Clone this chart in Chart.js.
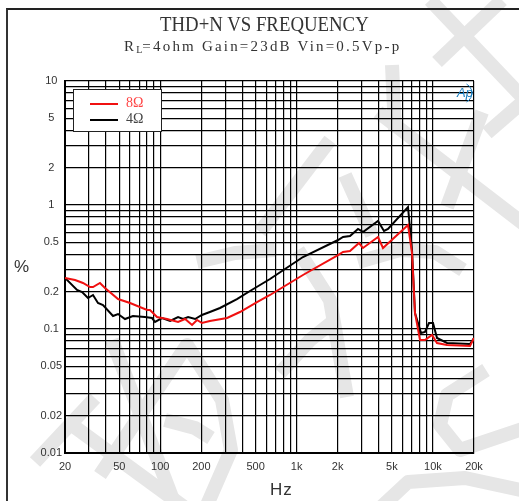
<!DOCTYPE html>
<html>
<head>
<meta charset="utf-8">
<title>THD+N VS FREQUENCY</title>
<script src="https://cdn.jsdelivr.net/npm/chart.js@4/dist/chart.umd.js"></script>
<style>
  html, body { margin: 0; padding: 0; background: #fff; overflow: hidden; }
  #wrap { position: relative; width: 519px; height: 501px; }
  canvas { position: absolute; left: 0; top: 0; }
  #frame { position: absolute; left: 6px; top: 8px; right: 0; bottom: 0; border-left: 2px solid #333; border-top: 2px solid #222; }
  .txt { position: absolute; white-space: nowrap; color: #333; }
  #title { left: 160px; top: 13px; font: 20px "Liberation Serif", serif; transform: scaleX(0.94); transform-origin: left top; }
  #sub { left: 124px; top: 38px; font: 15px "Liberation Serif", serif; letter-spacing: 2.2px; }
  #sub sub { font-size: 10px; letter-spacing: 0; vertical-align: -2px; line-height: 0; }
  #ylab { left: 14px; top: 257px; font: 17px "Liberation Sans", sans-serif; }
  #xlab { left: 270px; top: 480px; font: 17px "Liberation Sans", sans-serif; letter-spacing: 1px; }
  #legend { position: absolute; left: 73px; top: 89px; width: 87px; height: 41px; background: #fff; border: 1.5px solid #222; }
  #legend i { position: absolute; left: 16px; width: 28px; height: 1.6px; }
  #legend span { position: absolute; left: 52px; font: 14px "Liberation Serif", serif; }
</style>
</head>
<body>
<div id="wrap">
  <canvas id="thd" width="519" height="501"></canvas>
  <div id="frame"></div>
  <div class="txt" id="title">THD+N VS FREQUENCY</div>
  <div class="txt" id="sub">R<sub>L</sub>=4ohm Gain=23dB Vin=0.5Vp-p</div>
  <div class="txt" id="ylab">%</div>
  <div class="txt" id="xlab">Hz</div>
  <div id="legend"></div>
</div>
<script>
// values
var freq8 = [20, 23.7, 27.1, 30.5, 32.1, 36.1, 39.3, 49, 60, 80, 84, 94.6, 112, 135, 152, 171, 186, 202, 231, 309, 384, 512, 638, 1113, 2012, 2189, 2463, 2867, 3067, 3953, 4300, 6560, 7019, 7383, 8035, 8741, 9840, 10707, 12677, 18690, 20000];
var thd8 = [0.258, 0.248, 0.235, 0.218, 0.218, 0.235, 0.214, 0.1745, 0.162, 0.1423, 0.1423, 0.125, 0.1204, 0.1139, 0.1204, 0.1077, 0.1182, 0.1118, 0.116, 0.1226, 0.1371, 0.165, 0.188, 0.2726, 0.395, 0.4178, 0.4256, 0.4937, 0.45, 0.552, 0.45, 0.69, 0.41, 0.1346, 0.0815, 0.0815, 0.0895, 0.0771, 0.0743, 0.0729, 0.0846];
var freq4 = [20, 24.5, 26.7, 29.5, 32.1, 34.9, 38, 45, 49, 55.1, 63, 77.2, 87, 91.5, 103, 118, 135, 147, 160, 180, 202, 231, 274, 365, 455, 638, 1113, 2012, 2189, 2463, 2819, 3067, 3953, 4373, 4680, 6560, 7019, 7383, 8173, 8741, 9354, 10007, 10707, 12677, 18690, 20000];
var thd4 = [0.258, 0.2063, 0.1988, 0.1778, 0.188, 0.162, 0.1561, 0.1273, 0.1321, 0.1204, 0.1273, 0.125, 0.1226, 0.1139, 0.1226, 0.116, 0.125, 0.1204, 0.125, 0.1204, 0.1297, 0.1371, 0.1477, 0.1745, 0.2025, 0.2531, 0.3807, 0.522, 0.552, 0.5623, 0.6405, 0.606, 0.7428, 0.617, 0.6405, 0.9636, 0.4337, 0.1346, 0.0928, 0.0946, 0.1118, 0.1118, 0.0846, 0.0771, 0.0757, 0.0846];

var xGrid = [20, 30, 40, 50, 60, 70, 80, 90, 100, 200, 300, 400, 500, 600, 700, 800, 900, 1000, 2000, 3000, 4000, 5000, 6000, 7000, 8000, 9000, 10000, 20000];
var yGrid = [0.01, 0.02, 0.03, 0.04, 0.05, 0.06, 0.07, 0.08, 0.09, 0.1, 0.2, 0.3, 0.4, 0.5, 0.6, 0.7, 0.8, 0.9, 1, 2, 3, 4, 5, 6, 7, 8, 9, 10];
var xLabelled = [20, 50, 100, 200, 500, 1000, 2000, 5000, 10000, 20000];
var xLabelText = ['20', '50', '100', '200', '500', '1k', '2k', '5k', '10k', '20k'];
var yLabelled = [0.01, 0.02, 0.05, 0.1, 0.2, 0.5, 1, 2, 5, 10];

function points(xs, ys) {
    return xs.map(function(x, i) { return {x: x, y: ys[i]}; });
}

// grey watermark behind the plot
var marks = [
    [[35, 462], [95, 398]],
    [[72, 425], [195, 515]],
    [[112, 340], [175, 505]],
    [[100, 475], [187, 345], [222, 400], [231, 450], [207, 505]],
    [[165, 420], [195, 428], [211, 438]],
    [[197, 262], [235, 253], [275, 250]],
    [[260, 232], [330, 140]],
    [[345, 175], [372, 235]],
    [[298, 250], [330, 300], [347, 397]],
    [[280, 373], [310, 340], [335, 320]],
    [[358, 262], [400, 250], [435, 252], [463, 270]],
    [[486, 370], [447, 395], [440, 425], [460, 450], [525, 428]],
    [[378, 510], [408, 482], [465, 478], [530, 492]],
    [[430, 0], [525, 100]],
    [[502, 0], [437, 62]],
    [[378, 112], [525, 225]],
    [[392, 65], [395, 130]],
    [[482, 112], [447, 207]],
    [[487, 133], [525, 100]]
];

var watermark = {
    id: 'watermark',
    beforeDraw: function(chart) {
        var ctx = chart.ctx;
        ctx.save();
        ctx.strokeStyle = '#e6e6e6';
        ctx.lineWidth = 14;
        ctx.lineJoin = 'round';
        marks.forEach(function(m) {
            ctx.beginPath();
            ctx.moveTo(m[0][0], m[0][1]);
            for (var i = 1; i < m.length; i++) ctx.lineTo(m[i][0], m[i][1]);
            ctx.stroke();
        });
        ctx.restore();
    }
};

var apLogo = {
    id: 'apLogo',
    afterDatasetsDraw: function(chart) {
        var ctx = chart.ctx;
        ctx.save();
        ctx.fillStyle = '#1b7fc0';
        ctx.strokeStyle = '#1b7fc0';
        ctx.font = 'italic 13px "Liberation Sans"';
        ctx.textAlign = 'center';
        ctx.textBaseline = 'middle';
        ctx.fillText('Ap', 465, 93);
        ctx.lineWidth = 1;
        ctx.beginPath();
        ctx.arc(462, 93, 10, -1.1, 1.1);
        ctx.stroke();
        ctx.restore();
    }
};

var chart = new Chart(document.getElementById('thd').getContext('2d'), {
    type: 'line',
    plugins: [watermark, apLogo],
    data: {
        datasets: [
            {label: '8Ω', data: points(freq8, thd8), borderColor: '#f01010', borderWidth: 2, pointRadius: 0, tension: 0},
            {label: '4Ω', data: points(freq4, thd4), borderColor: '#000000', borderWidth: 2, pointRadius: 0, tension: 0}
        ]
    },
    options: {
        responsive: false,
        animation: false,
        layout: {padding: {top: 81, right: 45, left: 0, bottom: 0}},
        plugins: {legend: {display: false}, title: {display: false}, tooltip: {enabled: false}},
        scales: {
            x: {
                type: 'logarithmic',
                min: 20,
                max: 20000,
                afterBuildTicks: function(scale) {
                    scale.ticks = xGrid.map(function(v) { return {value: v}; });
                },
                afterFit: function(scale) { scale.height = 48; },
                border: {color: '#000', width: 2},
                grid: {color: '#000', lineWidth: 1.2, drawTicks: false},
                ticks: {
                    autoSkip: false,
                    maxRotation: 0,
                    padding: 7,
                    color: '#333',
                    font: {family: '"Liberation Sans"', size: 11},
                    callback: function(value) {
                        var i = xLabelled.indexOf(value);
                        return i < 0 ? '' : xLabelText[i];
                    }
                }
            },
            y: {
                type: 'logarithmic',
                min: 0.01,
                max: 10,
                afterBuildTicks: function(scale) {
                    scale.ticks = yGrid.map(function(v) { return {value: v}; });
                },
                afterFit: function(scale) { scale.width = 65; },
                border: {color: '#000', width: 2},
                grid: {color: '#000', lineWidth: 1.2, drawTicks: false},
                ticks: {
                    autoSkip: false,
                    padding: 3,
                    crossAlign: 'center',
                    color: '#333',
                    font: {family: '"Liberation Sans"', size: 11},
                    callback: function(value) {
                        return yLabelled.indexOf(value) < 0 ? '' : String(value);
                    }
                }
            }
        }
    }
});

// legend box sits on top of the grid
var legendBox = document.getElementById('legend');
chart.data.datasets.forEach(function(ds, i) {
    var line = document.createElement('i');
    line.style.top = (13 + i * 16) + 'px';
    line.style.background = ds.borderColor;
    legendBox.appendChild(line);
    var label = document.createElement('span');
    label.textContent = ds.label;
    label.style.top = (5 + i * 16) + 'px';
    label.style.color = i === 0 ? '#f44' : '#444';
    legendBox.appendChild(label);
});
</script>
</body>
</html>
